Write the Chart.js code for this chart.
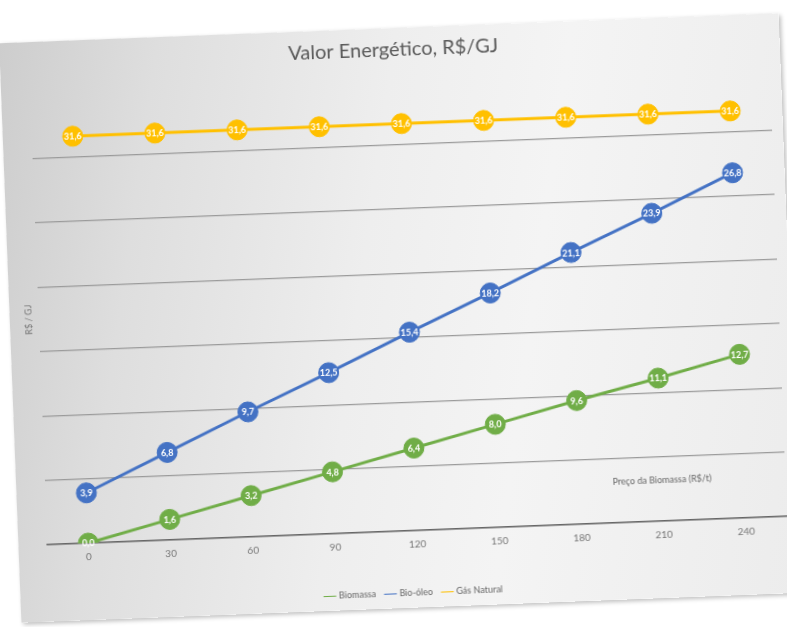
<!DOCTYPE html>
<html>
<head>
<meta charset="utf-8">
<script src="https://cdn.jsdelivr.net/npm/chart.js@4/dist/chart.umd.min.js"></script>
<style>
  html, body { margin: 0; padding: 0; background: #ffffff; width: 787px; height: 627px; overflow: hidden; }
  #panel {
    position: absolute; left: 10px; top: 28px; width: 780px; height: 580px;
    background: linear-gradient(100deg, #cdcdcd 0%, #dedede 18%, #eeeeee 45%, #f4f4f4 65%, #ececec 100%);
    transform: rotate(-2.2deg);
    transform-origin: 50% 50%;
    box-shadow: 2px 2px 4px rgba(0,0,0,0.25);
  }
  #c { position: absolute; left: 0; top: 0; }
</style>
</head>
<body>
<div id="panel"><canvas id="c" width="780" height="580"></canvas></div>
<script>
const categories = ['0', '30', '60', '90', '120', '150', '180', '210', '240'];
const biomassa   = [0.0, 1.6, 3.2, 4.8, 6.4, 8.0, 9.6, 11.1, 12.7];
const bioOleo    = [3.9, 6.8, 9.7, 12.5, 15.4, 18.2, 21.1, 23.9, 26.8];
const gasNatural = [31.6, 31.6, 31.6, 31.6, 31.6, 31.6, 31.6, 31.6, 31.6];
const seriesNames = ['Biomassa', 'Bio-óleo', 'Gás Natural'];
const chartTitle = 'Valor Energético, R$/GJ';
const xTitle = 'Preço da Biomassa (R$/t)';
const yTitle = 'R$ / GJ';

const FONT = 'Lato, "Open Sans", sans-serif';

const dataLabels = {
  id: 'dataLabels',
  afterDatasetsDraw(chart) {
    const ctx = chart.ctx;
    ctx.save();
    ctx.font = 'bold 9px ' + FONT;
    ctx.fillStyle = '#ffffff';
    ctx.textAlign = 'center';
    ctx.textBaseline = 'middle';
    chart.data.datasets.forEach((ds, i) => {
      const meta = chart.getDatasetMeta(i);
      meta.data.forEach((pt, j) => {
        ctx.fillText(ds.data[j].toFixed(1).replace('.', ','), pt.x, pt.y + 0.5);
      });
    });
    ctx.restore();
  }
};

const innerXTitle = {
  id: 'innerXTitle',
  afterDraw(chart) {
    const ctx = chart.ctx;
    const xs = chart.scales.x, ys = chart.scales.y;
    ctx.save();
    ctx.font = '9px ' + FONT;
    ctx.fillStyle = '#666666';
    ctx.textAlign = 'center';
    ctx.textBaseline = 'middle';
    ctx.fillText(xTitle, xs.getPixelForValue(7), ys.getPixelForValue(3.2));
    ctx.restore();
  }
};

function ds(label, data, color) {
  return {
    label, data,
    borderColor: color, backgroundColor: color,
    borderWidth: 3,
    pointRadius: 10, pointHoverRadius: 10,
    pointBackgroundColor: color,
    pointBorderColor: color,
    pointBorderWidth: 1,
    tension: 0
  };
}

new Chart(document.getElementById('c'), {
  type: 'line',
  data: {
    labels: categories,
    datasets: [
      ds(seriesNames[0], biomassa, '#70AD47'),
      ds(seriesNames[1], bioOleo, '#4472C4'),
      ds(seriesNames[2], gasNatural, '#FFC000')
    ]
  },
  options: {
    responsive: false,
    animation: false,
    layout: { padding: { left: 10, right: 3, top: 0, bottom: 0 } },
    plugins: {
      title: {
        display: true, text: chartTitle, color: '#595959',
        font: { family: FONT, size: 20, weight: 'normal' },
        padding: { top: 10, bottom: 18 }
      },
      legend: {
        position: 'bottom',
        labels: {
          color: '#666666', font: { family: FONT, size: 9 },
          usePointStyle: true, pointStyle: 'line', boxWidth: 22, padding: 10
        }
      },
      tooltip: { enabled: false }
    },
    scales: {
      x: {
        offset: true,
        grid: { display: false, drawTicks: false },
        border: { display: true, color: '#666666', width: 1.5 },
        ticks: { color: '#777777', font: { family: FONT, size: 10 }, padding: 8 },
        afterFit(scale) { scale.height = 48; }
      },
      y: {
        min: 0, max: 35,
        ticks: { display: false, stepSize: 5 },
        grid: {
          drawTicks: false,
          color: (c) => (c.tick && c.tick.value === 35) ? 'rgba(0,0,0,0)' : '#9a9a9a',
          lineWidth: 1.2
        },
        border: { display: false },
        title: { display: true, text: yTitle, color: '#777777', font: { family: FONT, size: 9 }, padding: 4 }
      }
    }
  },
  plugins: [dataLabels, innerXTitle]
});
</script>
</body>
</html>
